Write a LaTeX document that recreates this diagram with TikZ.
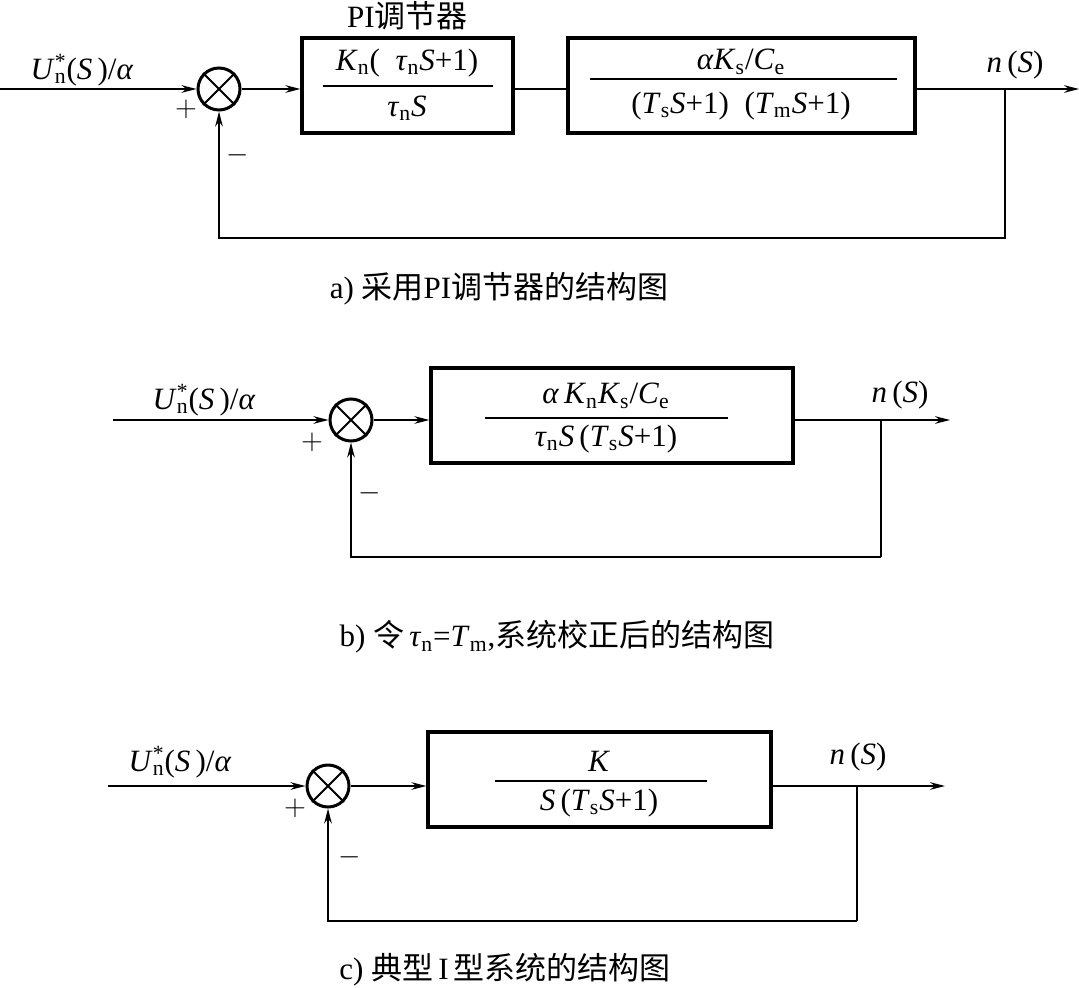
\documentclass[tikz,border=0pt]{standalone}
\usepackage{fontspec}
\setmainfont{Liberation Serif}
\newfontfamily\cjk{Noto Sans CJK SC}
\usepackage{tikz}
\usetikzlibrary{arrows.meta, positioning}

\newcommand{\vi}[1]{\textit{#1}}
\newcommand{\ix}[1]{\textsubscript{#1}}
\newcommand{\Uin}{\vi{U}\rlap{\ix{n}}\textsuperscript{*}(\vi{S}\,)/\vi{α}}

\begin{document}
\begin{tikzpicture}[
    x=0.5pt, y=-0.5pt,
    font=\fontsize{15.5}{18}\selectfont,
    block/.style={rectangle, draw=black, line width=1.6pt, minimum height=47.5pt, inner sep=0pt},
    sumnode/.style={circle, draw=black, line width=1.5pt, minimum size=21pt, inner sep=0pt},
    wire/.style={line width=0.9pt},
    arrow/.style={wire, -{Stealth[length=7.5pt, width=3.8pt]}},
    fracbar/.style={line width=0.6pt},
    label/.style={inner sep=1pt}
]
\useasboundingbox (0,0) rectangle (1079,988);

% a)
\coordinate (ina) at (0,89);
\node (sa) [sumnode] at (219,89) {};
\node (pia) [block, minimum width=105.5pt] at (407.5,85.5) {};
\node (pla) [block, minimum width=173.5pt] at (741.5,85.5) {};
\coordinate (bra) at (1005,89);
\coordinate (outa) at (1079,89);
\coordinate (fba) at (1005,238);

\draw [wire] (sa.north east) -- (sa.south west) (sa.north west) -- (sa.south east);
\draw [arrow] (ina) -- (sa);
\draw [arrow] (sa) -- (sa -| pia.west);
\draw [wire] (sa -| pia.east) -- (sa -| pla.west);
\draw [arrow] (sa -| pla.east) -- (outa);
\draw [arrow] (bra) -- (fba) -| (sa.south);

\node (pianum) [label] at (407,63) {\vi{K}\ix{n}(\enspace\vi{τ}\ix{n}\vi{S}+1)};
\draw [fracbar] (323,86) -- (493,86);
\node (piaden) [label] at (407,108) {\vi{τ}\ix{n}\vi{S}};
\node (planum) [label] at (741,62) {\vi{α}\vi{K}\ix{s}/\vi{C}\ix{e}};
\draw [fracbar] (590,79) -- (897,79);
\node (pladen) [label] at (741,106) {(\vi{T}\ix{s}\vi{S}+1)\enspace(\vi{T}\ix{m}\vi{S}+1)};

\node (pititle) [label, above=2pt of pia] {PI{\cjk 调节器}};
\node (uina) [label] at (82,70) {\Uin};
\node (plusa) [label] at (186,109) {$+$};
\node (minusa) [label] at (238,155) {$-$};
\node (nouta) [label] at (1015,65) {\vi{n}\,(\vi{S})};
\node (capa) [label] at (499,289) {a) {\cjk 采用}PI{\cjk 调节器的结构图}};

% b)
\coordinate (inb) at (113,420);
\node (sb) [sumnode] at (351,420) {};
\node (gb) [block, minimum width=181pt] at (612,415.5) {};
\coordinate (brb) at (881,420);
\coordinate (outb) at (950,420);
\coordinate (fbb) at (881,557);

\draw [wire] (sb.north east) -- (sb.south west) (sb.north west) -- (sb.south east);
\draw [arrow] (inb) -- (sb);
\draw [arrow] (sb) -- (sb -| gb.west);
\draw [arrow] (sb -| gb.east) -- (outb);
\draw [wire] (brb) -- (fbb);
\draw [arrow] (fbb) -| (sb.south);

\node (gbnum) [label] at (606,396) {\vi{α}\,\vi{K}\ix{n}\vi{K}\ix{s}/\vi{C}\ix{e}};
\draw [fracbar] (485,418) -- (728,418);
\node (gbden) [label] at (606,439) {\vi{τ}\ix{n}\vi{S}\,(\vi{T}\ix{s}\vi{S}+1)};

\node (uinb) [label] at (204,400) {\Uin};
\node (plusb) [label] at (312,442) {$+$};
\node (minusb) [label] at (370,493) {$-$};
\node (noutb) [label] at (900,395) {\vi{n}\,(\vi{S})};
\node (capb) [label] at (557,637) {b) {\cjk 令}\,\vi{τ}\ix{n}=\vi{T}\ix{m},{\cjk 系统校正后的结构图}};

% c)
\coordinate (inc) at (108,786);
\node (sc) [sumnode] at (328,786) {};
\node (gc) [block, minimum width=171.5pt] at (599.5,779.5) {};
\coordinate (brc) at (857,786);
\coordinate (outc) at (945,786);
\coordinate (fbc) at (857,921);

\draw [wire] (sc.north east) -- (sc.south west) (sc.north west) -- (sc.south east);
\draw [arrow] (inc) -- (sc);
\draw [arrow] (sc) -- (sc -| gc.west);
\draw [arrow] (sc -| gc.east) -- (outc);
\draw [wire] (brc) -- (fbc);
\draw [arrow] (fbc) -| (sc.south);

\node (gcnum) [label] at (599,761) {\vi{K}};
\draw [fracbar] (495,781) -- (707,781);
\node (gcden) [label] at (599,803) {\vi{S}\,(\vi{T}\ix{s}\vi{S}+1)};

\node (uinc) [label] at (180,762) {\Uin};
\node (plusc) [label] at (295,808) {$+$};
\node (minusc) [label] at (350,857) {$-$};
\node (noutc) [label] at (858,757) {\vi{n}\,(\vi{S})};
\node (capc) [label] at (505,970) {c) {\cjk 典型}\,I\,{\cjk 型系统的结构图}};

\end{tikzpicture}
\end{document}
